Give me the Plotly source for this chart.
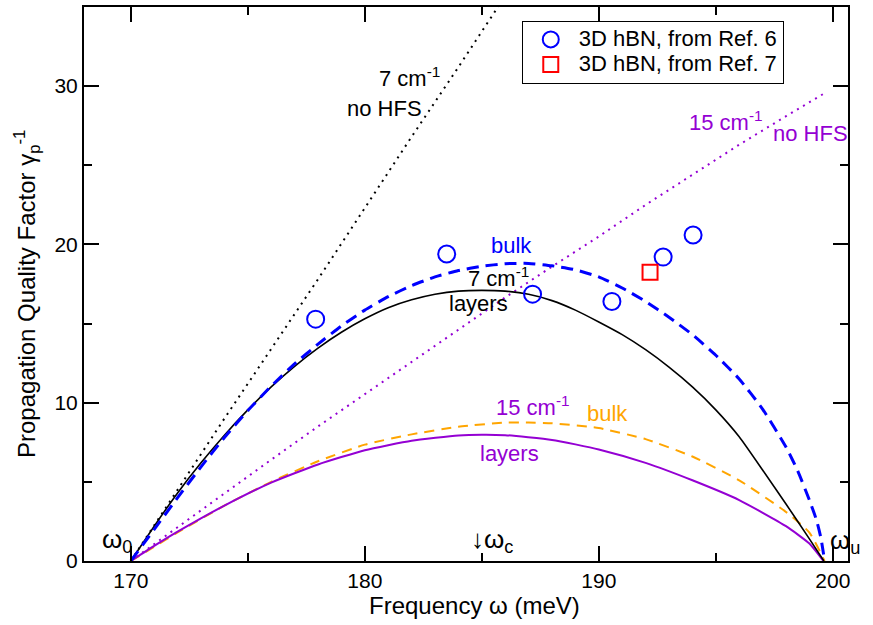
import plotly.graph_objects as go

# ---- data ----
x_nohfs7 = [170, 172, 174, 176, 178, 180, 182, 184, 186]
y_nohfs7 = [0, 4.5, 9.0, 13.4, 17.8, 22.3, 26.8, 31.2, 35.7]

x_nohfs15 = [170, 172, 174, 176, 178, 180, 182, 184, 186, 188, 190, 192, 194, 196, 198, 199.7]
y_nohfs15 = [0, 2.15, 4.3, 6.4, 8.5, 10.55, 12.6, 14.65, 16.65, 18.6, 20.5, 22.5, 24.4, 26.3, 28.1, 29.6]

x_layers7 = [170, 171, 172, 173, 174, 175, 176, 177, 178, 179, 180, 181, 182, 183, 184, 185, 186,
             187, 188, 189, 190, 191, 192, 193, 194, 195, 196, 197, 198, 199, 199.62]
y_layers7 = [0, 2.2, 4.3, 6.2, 7.95, 9.55, 11.0, 12.3, 13.45, 14.45, 15.3, 16.0, 16.5, 16.85, 17.05, 17.1, 17.05,
             16.85, 16.45, 15.85, 15.1, 14.3, 13.35, 12.25, 11.0, 9.55, 7.85, 5.75, 3.6, 1.4, 0]

x_bulk7 = [170, 171, 172, 173, 174, 175, 176, 177, 178, 179, 180, 181, 182, 183, 184, 185, 186,
           187, 188, 189, 190, 191, 192, 193, 194, 195, 196, 197, 198, 198.5, 199, 199.3, 199.5, 199.65]
y_bulk7 = [0, 2.0, 4.0, 5.95, 7.8, 9.5, 11.05, 12.45, 13.7, 14.85, 15.85, 16.7, 17.4, 17.95, 18.35, 18.62, 18.78,
           18.8, 18.65, 18.4, 17.95, 17.25, 16.4, 15.4, 14.3, 13.0, 11.5, 9.6, 7.2, 5.7, 3.85, 2.6, 1.4, 0]

x_bulk15 = [170, 171, 172, 174, 176, 178, 180, 182, 184, 186, 187, 188, 190, 192, 194, 196, 198, 199, 199.65]
y_bulk15 = [0, 0.9, 1.8, 3.5, 5.0, 6.3, 7.35, 8.0, 8.48, 8.75, 8.75, 8.7, 8.4, 7.7, 6.6, 5.1, 3.1, 1.8, 0]

x_layers15 = [170, 171, 172, 174, 176, 178, 180, 182, 184, 185, 186, 188, 190, 192, 194, 196, 198, 199, 199.6]
y_layers15 = [0, 0.95, 1.85, 3.5, 4.95, 6.1, 7.0, 7.6, 7.93, 7.98, 7.95, 7.65, 7.05, 6.2, 5.1, 3.85, 2.2, 1.1, 0]

x_ref6 = [177.9, 183.5, 187.17, 190.56, 192.75, 194.03]
y_ref6 = [15.28, 19.4, 16.86, 16.4, 19.2, 20.6]
x_ref7 = [192.19]
y_ref7 = [18.24]

x_ticks = [170, 180, 190, 200]
y_ticks = [0, 10, 20, 30]

BLUE = "#0000FF"
VIOLET = "#9400D3"
ORANGE = "#FFA500"
FONT = "Liberation Sans, Arial, Helvetica, sans-serif"
FS = 21

SPL = dict(shape="spline", smoothing=0.5)

fig = go.Figure()
fig.add_trace(go.Scatter(x=x_nohfs7, y=y_nohfs7, mode="lines", showlegend=False,
                         line=dict(color="black", width=2, dash="2px,5px")))
fig.add_trace(go.Scatter(x=x_nohfs15, y=y_nohfs15, mode="lines", showlegend=False,
                         line=dict(color=VIOLET, width=2, dash="2px,5px")))
fig.add_trace(go.Scatter(x=x_bulk15, y=y_bulk15, mode="lines", showlegend=False,
                         line=dict(color=ORANGE, width=2, dash="10px,7px", **SPL)))
fig.add_trace(go.Scatter(x=x_layers15, y=y_layers15, mode="lines", showlegend=False,
                         line=dict(color=VIOLET, width=2, **SPL)))
fig.add_trace(go.Scatter(x=x_layers7, y=y_layers7, mode="lines", showlegend=False,
                         line=dict(color="black", width=1.6, **SPL)))
fig.add_trace(go.Scatter(x=x_bulk7, y=y_bulk7, mode="lines", showlegend=False,
                         line=dict(color=BLUE, width=3, dash="12px,7px", **SPL)))
fig.add_trace(go.Scatter(x=x_ref6, y=y_ref6, mode="markers",
                         name="<span style='font-size:22px'>3D hBN, from Ref. 6</span>",
                         marker=dict(symbol="circle-open", size=17, color=BLUE, line=dict(width=2, color=BLUE))))
fig.add_trace(go.Scatter(x=x_ref7, y=y_ref7, mode="markers",
                         name="<span style='font-size:22px'>3D hBN, from Ref. 7</span>",
                         marker=dict(symbol="square-open", size=15, color="red", line=dict(width=2, color="red"))))

def ann(text, x, y, color="black", xanchor="left", yanchor="middle", size=22, family=FONT):
    fig.add_annotation(text=text, x=x, y=y, xref="x", yref="y", showarrow=False,
                       xanchor=xanchor, yanchor=yanchor,
                       font=dict(family=family, size=size, color=color))

ann("7 cm<sup>-1</sup>", 183.3, 30.6, xanchor="right")
ann("no HFS", 182.54, 28.6, xanchor="right")
ann("15 cm<sup>-1</sup>", 193.79, 27.8, color=VIOLET)
ann("no HFS", 197.38, 27.0, color=VIOLET)
ann("bulk", 186.29, 19.95, color=BLUE, xanchor="center")
ann("7 cm<sup>-1</sup>", 184.33, 17.95)
ann("layers", 184.85, 16.25, xanchor="center")
ann("15 cm<sup>-1</sup>", 185.53, 9.8, color=VIOLET)
ann("bulk", 189.39, 9.3, color=ORANGE)
ann("layers", 186.18, 6.82, color=VIOLET, xanchor="center")
ann("ω<sub>0</sub>", 168.69, 1.3, size=26)
ann("↓ω<sub>c</sub>", 184.45, 1.3, size=26)
ann("ω<sub>u</sub>", 199.79, 1.25, size=26)

# axis titles
fig.add_annotation(text="Frequency ω (meV)", x=0.5105, y=-0.053, xref="paper", yref="paper",
                   showarrow=False, xanchor="center", yanchor="top",
                   font=dict(family=FONT, size=24, color="black"))
fig.add_annotation(text="Propagation Quality Factor γ<sub>p</sub><sup>-1</sup>", x=-0.0746, y=0.482,
                   xref="paper", yref="paper", showarrow=False, textangle=-90,
                   xanchor="center", yanchor="middle",
                   font=dict(family=FONT, size=24, color="black"))

axis_common = dict(showline=True, linecolor="black", linewidth=2, mirror="allticks",
                   ticks="inside", ticklen=15, tickwidth=1.5, tickcolor="black",
                   showgrid=False, zeroline=False,
                   tickfont=dict(family=FONT, size=FS, color="black"))
fig.update_xaxes(range=[168, 200.65], tickvals=x_ticks,
                 minor=dict(dtick=5, tick0=165, ticks="inside", ticklen=8, tickwidth=1.5, tickcolor="black", showgrid=False),
                 **axis_common)
fig.update_yaxes(range=[0, 35], tickvals=y_ticks,
                 minor=dict(dtick=5, tick0=5, ticks="inside", ticklen=8, tickwidth=1.5, tickcolor="black", showgrid=False),
                 **axis_common)

fig.update_layout(width=873, height=625, margin=dict(l=84, r=25, t=5, b=64),
                  paper_bgcolor="white", plot_bgcolor="white",
                  font=dict(family=FONT, size=FS, color="black"),
                  legend=dict(x=0.573, y=0.975, xanchor="left", yanchor="top",
                              bordercolor="black", borderwidth=1, bgcolor="white",
                              font=dict(family=FONT, size=17, color="black"),
                              tracegroupgap=0, itemwidth=46))
fig.write_html("out.html", config={"displayModeBar": False},
               post_script="document.body.style.margin='0';document.body.style.overflow='hidden';")
